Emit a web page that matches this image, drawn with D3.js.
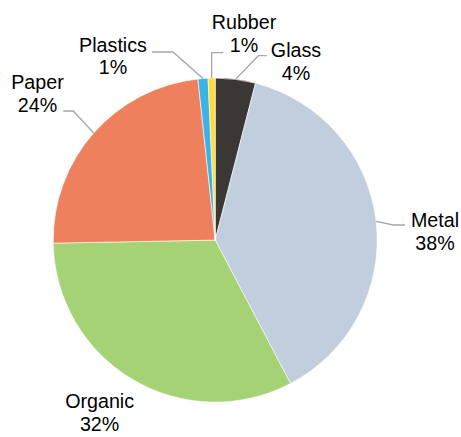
<!DOCTYPE html>
<html>
<head>
<meta charset="utf-8">
<script src="https://cdn.jsdelivr.net/npm/d3@7"></script>
<style>
  body { margin: 0; background: #fff; }
  svg { display: block; }
  .lbl { font-family: "Liberation Sans", Arial, sans-serif; font-size: 19.7px; fill: #000; }
</style>
</head>
<body>
<div id="vis"></div>
<script>
// Waste composition by share (%)
const categories = ["Glass", "Metal", "Organic", "Paper", "Plastics", "Rubber"];
const shares = [4.0, 38.3, 32.4, 23.6, 1.0, 0.7];
const shareLabels = ["4%", "38%", "32%", "24%", "1%", "1%"];
const colors = ["#3a3735", "#c1cede", "#a4d274", "#ef805e", "#3db3e3", "#ffdc3c"];

// Frame
const FRAME_WIDTH = 461;
const FRAME_HEIGHT = 437;
const CX = 215.2, CY = 240.1, RADIUS = 162;

const FRAME = d3.select("#vis")
  .append("svg")
  .attr("width", FRAME_WIDTH)
  .attr("height", FRAME_HEIGHT);

const G = FRAME.append("g")
  .attr("transform", "translate(" + CX + "," + CY + ")");

// Label placement (offsets from pie centre), Excel-style manual positions
const LABEL_LAYOUT = {
  Glass:    {tx: 80.8,   ty: -182.8, elbow: [43.1, -184.4],  end: [51.5, -184.4]},
  Metal:    {tx: 219.8,  ty: -13.1,  elbow: [178.1, -15.1],  end: [189.8, -15.1]},
  Organic:  {tx: -115.6, ty: 168.2,  elbow: null,            end: null},
  Paper:    {tx: -177.7, ty: -150.8, elbow: [-141.9, -129.1], end: [-151.9, -129.1]},
  Plastics: {tx: -102.2, ty: -188.4, elbow: [-42.2, -188.1], end: [-63.2, -188.1]},
  Rubber:   {tx: 28.8,   ty: -211.1, elbow: "vertical",      end: [8.1, -187.4]}
};
const LINE_GAP = 22.6;

const color = d3.scaleOrdinal().domain(categories).range(colors);

const pie = d3.pie()
  .sort(null)
  .value((d, i) => shares[i]);

const arcs = pie(categories);

const arc = d3.arc().innerRadius(0).outerRadius(RADIUS);
const edgeArc = d3.arc().innerRadius(RADIUS).outerRadius(RADIUS);

// Slices
G.selectAll("path.slice")
  .data(arcs)
  .enter()
  .append("path")
  .attr("class", "slice")
  .attr("d", arc)
  .attr("fill", d => color(d.data))
  .attr("stroke", "#fff")
  .attr("stroke-width", 0.6);

// Leader lines
arcs.forEach(d => {
  const lay = LABEL_LAYOUT[d.data];
  if (!lay.end) return;
  const start = edgeArc.centroid(d);
  const elbow = lay.elbow === "vertical" ? [start[0], lay.end[1]] : lay.elbow;
  G.append("path")
    .attr("d", d3.line()([start, elbow, lay.end]))
    .attr("fill", "none")
    .attr("stroke", "#a6a6a6")
    .attr("stroke-width", 1.3);
});

// Labels
arcs.forEach((d, i) => {
  const lay = LABEL_LAYOUT[d.data];
  const t = G.append("text")
    .attr("class", "lbl")
    .attr("text-anchor", "middle")
    .attr("x", lay.tx)
    .attr("y", lay.ty);
  t.append("tspan").attr("x", lay.tx).text(d.data);
  t.append("tspan").attr("x", lay.tx).attr("dy", LINE_GAP).text(shareLabels[i]);
});
</script>
</body>
</html>
